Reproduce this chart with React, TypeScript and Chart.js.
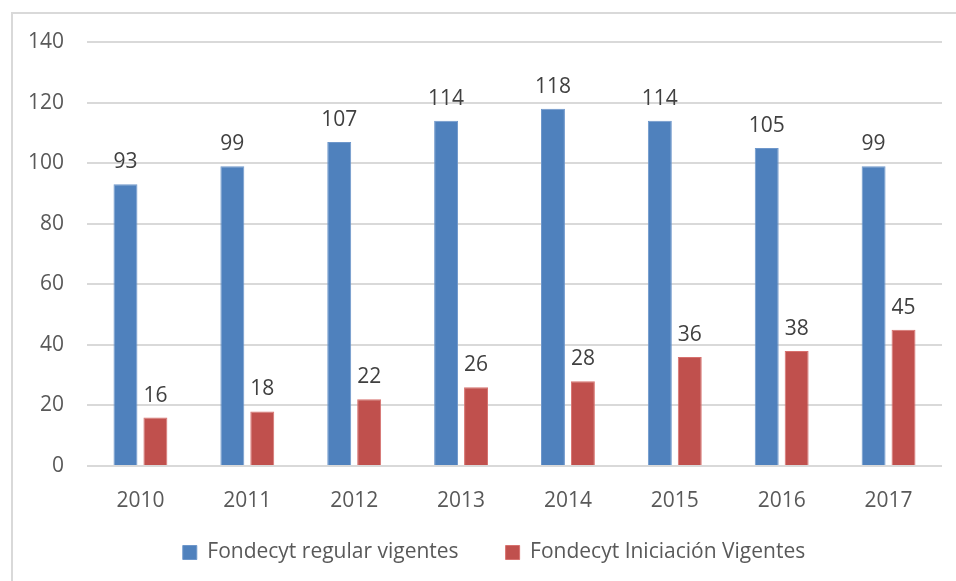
import React, { useEffect, useRef } from "react";
import { Chart, registerables } from "chart.js";

Chart.register(...registerables);

const categories = ["2010", "2011", "2012", "2013", "2014", "2015", "2016", "2017"];
const regularValues = [93, 99, 107, 114, 118, 114, 105, 99];
const iniciacionValues = [16, 18, 22, 26, 28, 36, 38, 45];
const seriesNames = ["Fondecyt regular vigentes", "Fondecyt Iniciación Vigentes"];
const yMin = 0;
const yMax = 140;
const yStep = 20;

const FONT = "'Open Sans', sans-serif";

const dataLabelPlugin = {
  id: "dataLabels",
  afterDatasetsDraw(chart: any) {
    const ctx = chart.ctx;
    ctx.save();
    ctx.font = `21px ${FONT}`;
    ctx.fillStyle = "#404040";
    ctx.textAlign = "center";
    ctx.textBaseline = "alphabetic";
    chart.data.datasets.forEach((ds: any, i: number) => {
      const meta = chart.getDatasetMeta(i);
      meta.data.forEach((bar: any, j: number) => {
        ctx.fillText(String(ds.data[j]), bar.x, bar.y - 16);
      });
    });
    ctx.restore();
  },
};

const layoutTweakPlugin = {
  id: "layoutTweak",
  afterLayout(chart: any) {
    const lg = chart.legend;
    if (lg) {
      lg.left += 13;
      lg.right += 13;
    }
    const xs = chart.scales.x;
    if (xs) {
      xs.bottom = chart.height;
    }
  },
};

export default function App() {
  const canvasRef = useRef<HTMLCanvasElement | null>(null);

  useEffect(() => {
    if (!canvasRef.current) return;
    const chart = new Chart(canvasRef.current, {
      type: "bar",
      data: {
        labels: categories,
        datasets: [
          {
            label: seriesNames[0],
            data: regularValues,
            backgroundColor: "#4F81BD",
            borderColor: "#6E97CB",
            borderWidth: 1,
            barPercentage: 0.8,
            categoryPercentage: 0.56,
          },
          {
            label: seriesNames[1],
            data: iniciacionValues,
            backgroundColor: "#C0504D",
            borderColor: "#D7716E",
            borderWidth: 1,
            barPercentage: 0.8,
            categoryPercentage: 0.56,
          },
        ],
      },
      options: {
        responsive: false,
        animation: false,
        devicePixelRatio: 1,
        layout: { padding: { left: 20, right: 14, top: 42, bottom: 8 } },
        plugins: {
          tooltip: { enabled: false },
          legend: {
            position: "bottom",
            labels: {
              boxWidth: 14,
              boxHeight: 14,
              padding: 47,
              color: "#595959",
              font: { family: FONT, size: 21 },
            },
          },
        },
        scales: {
          x: {
            afterFit: (s: any) => {
              s.height = 29;
            },
            grid: { display: false },
            border: { display: false },
            ticks: {
              color: "#595959",
              padding: 14,
              font: { family: FONT, size: 21 },
            },
          },
          y: {
            min: yMin,
            max: yMax,
            afterFit: (s: any) => {
              s.width = 67;
            },
            grid: { color: "#d9d9d9", lineWidth: 2, drawTicks: false },
            border: { display: false },
            ticks: {
              stepSize: yStep,
              color: "#595959",
              padding: 23,
              font: { family: FONT, size: 21 },
            },
          },
        },
      },
      plugins: [dataLabelPlugin, layoutTweakPlugin],
    });
    return () => chart.destroy();
  }, []);

  return (
    <div style={{ position: "absolute", left: 0, top: 0, width: 956, height: 581, background: "#fff", overflow: "hidden" }}>
      <div
        style={{
          position: "absolute",
          left: 11,
          top: 12,
          width: 1000,
          height: 1000,
          borderLeft: "2px solid #d9d9d9",
          borderTop: "2px solid #d9d9d9",
        }}
      />
      <canvas ref={canvasRef} width={956} height={581} style={{ position: "absolute", left: 0, top: 0 }} />
    </div>
  );
}
